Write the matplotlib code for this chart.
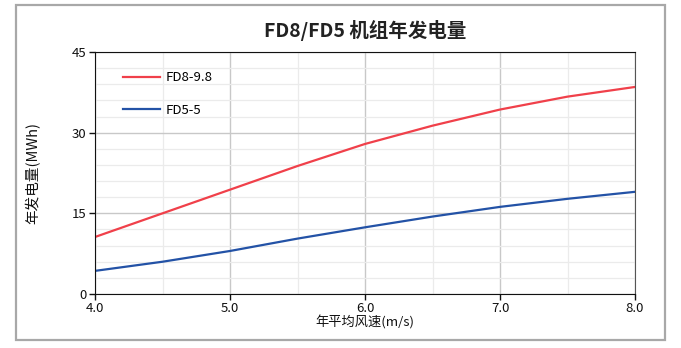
import matplotlib
matplotlib.use('Agg')
import matplotlib.pyplot as plt
from matplotlib.patches import Rectangle
from matplotlib.ticker import MultipleLocator

plt.rcParams['font.family'] = ['Noto Sans CJK SC', 'DejaVu Sans']

# 年平均风速 (m/s) 与年发电量 (MWh)
wind_speed = [4.0, 4.5, 5.0, 5.5, 6.0, 6.5, 7.0, 7.5, 8.0]
fd8_energy = [10.6, 15.0, 19.4, 23.8, 27.9, 31.3, 34.3, 36.7, 38.5]
fd5_energy = [4.3, 6.0, 8.0, 10.3, 12.4, 14.4, 16.2, 17.7, 19.0]
series_names = ['FD8-9.8', 'FD5-5']
x_ticks = [4.0, 5.0, 6.0, 7.0, 8.0]
y_ticks = [0, 15, 30, 45]

fig = plt.figure(figsize=(6.81, 3.48), dpi=100, facecolor='white')
ax = fig.add_axes([95 / 681, 1 - 294 / 348, 540 / 681, 242 / 348])

# 外边框
fig.patches.append(Rectangle((16 / 681, 1 - 340 / 348), 649 / 681, 335 / 348,
                             transform=fig.transFigure, fill=False,
                             edgecolor='#a8a8a8', linewidth=1.6))

ax.plot(wind_speed, fd8_energy, color='#f0404a', linewidth=1.6, label=series_names[0])
ax.plot(wind_speed, fd5_energy, color='#2352a6', linewidth=1.6, label=series_names[1])

ax.set_xlim(4.0, 8.0)
ax.set_ylim(0, 45)
ax.set_xticks(x_ticks)
ax.set_xticklabels(['%.1f' % v for v in x_ticks])
ax.set_yticks(y_ticks)
ax.xaxis.set_minor_locator(MultipleLocator(0.5))
ax.yaxis.set_minor_locator(MultipleLocator(3))
ax.grid(which='major', color='#c8c8c8', linewidth=1.0)
ax.grid(which='minor', color='#ebebeb', linewidth=0.9)
ax.set_axisbelow(True)
ax.tick_params(which='major', length=4, width=1, labelsize=9.5, colors='#111111', pad=2)
ax.tick_params(which='minor', length=0)
for side in ['left', 'bottom', 'top']:
    ax.spines[side].set_color('#111111')
ax.spines['right'].set_color('#555555')

ax.set_xlabel('年平均风速(m/s)', fontsize=9.5, labelpad=0, color='#111111')
ax.set_ylabel('年发电量(MWh)', fontsize=10.5, fontweight='medium', labelpad=23, color='#111111')
fig.text(365 / 681, 1 - 30 / 348, 'FD8/FD5 机组年发电量', ha='center', va='center',
         fontsize=14, fontweight='bold', color='#222222')

ax.legend(loc='upper left', bbox_to_anchor=(0.03, 0.97), frameon=False, fontsize=9.5,
          handlelength=2.8, labelspacing=1.5, handletextpad=0.4)

fig.savefig('out.png', dpi=100, facecolor='white')
